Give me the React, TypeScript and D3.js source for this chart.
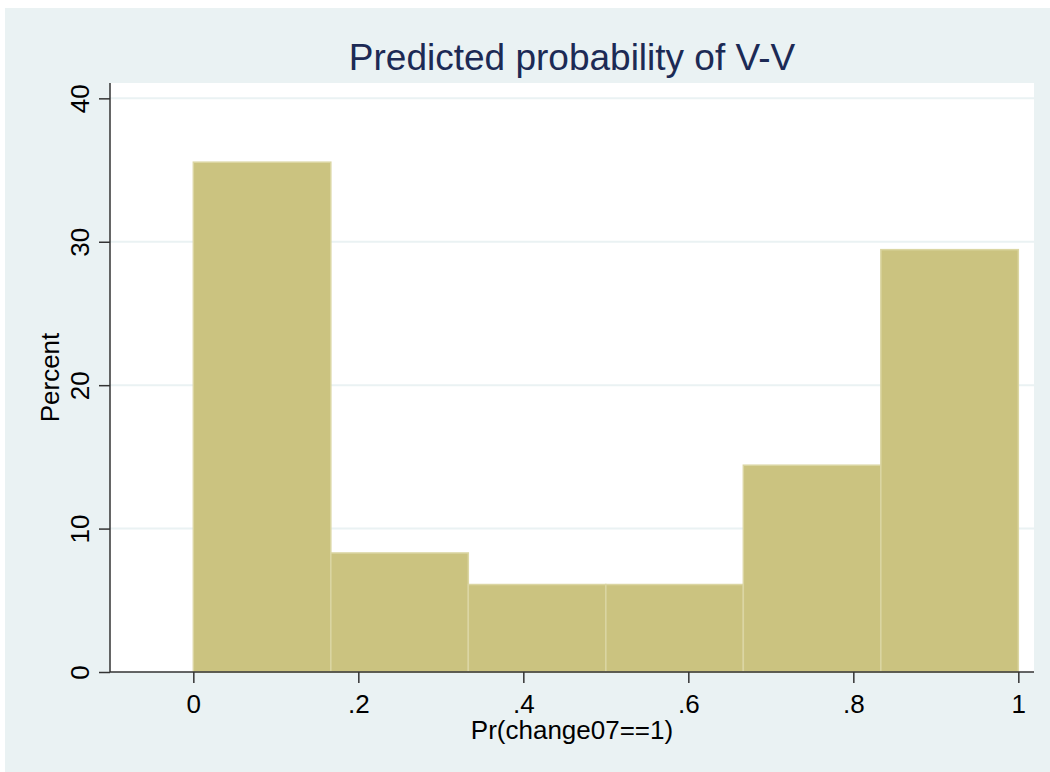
import React, { useEffect, useRef } from 'react';
import * as d3 from 'd3';

// histogram bins (start, end) and percent heights
const binStarts = [0, 1 / 6, 2 / 6, 3 / 6, 4 / 6, 5 / 6];
const binWidth = 1 / 6;
const percents = [35.55, 8.3, 6.1, 6.1, 14.42, 29.45];
const xTicks = [0, 0.2, 0.4, 0.6, 0.8, 1];
const xTickLabels = ['0', '.2', '.4', '.6', '.8', '1'];
const yTicks = [0, 10, 20, 30, 40];

const W = 1050;
const H = 772;

export default function App() {
  const ref = useRef<SVGSVGElement>(null);

  useEffect(() => {
    const svg = d3.select(ref.current);
    svg.selectAll('*').remove();

    const font = '"Liberation Sans", Arial, sans-serif';
    const left = 110, right = 1034, top = 83, bottom = 672;

    svg.append('rect').attr('width', W).attr('height', H).attr('fill', '#ffffff');
    svg.append('rect').attr('x', 5).attr('y', 8).attr('width', W - 5).attr('height', H - 8).attr('fill', '#eaf2f3');
    svg.append('rect').attr('x', left).attr('y', top).attr('width', right - left).attr('height', bottom - top).attr('fill', '#ffffff');

    const x = d3.scaleLinear().domain([-0.101, 1.019]).range([left, right]);
    const y = d3.scaleLinear().domain([0, 41.07]).range([bottom, top]);

    // gridlines
    svg.append('g')
      .selectAll('line')
      .data(yTicks.filter(d => d > 0))
      .join('line')
      .attr('x1', left)
      .attr('x2', right)
      .attr('y1', d => y(d))
      .attr('y2', d => y(d))
      .attr('stroke', '#eaf2f3')
      .attr('stroke-width', 2);

    // bars
    svg.append('g')
      .selectAll('rect')
      .data(percents)
      .join('rect')
      .attr('x', (d, i) => x(binStarts[i]))
      .attr('y', d => y(d))
      .attr('width', (d, i) => x(binStarts[i] + binWidth) - x(binStarts[i]))
      .attr('height', d => y(0) - y(d))
      .attr('fill', '#cbc380')
      .attr('stroke', '#dbd6a3')
      .attr('stroke-width', 1.5);

    // y axis
    const yAxis = svg.append('g').attr('transform', `translate(${left},0)`)
      .call(d3.axisLeft(y).tickValues(yTicks).tickSize(11).tickFormat(d3.format('d')));
    yAxis.select('.domain').attr('d', `M0,${top}V${bottom}`).attr('stroke', '#333').attr('stroke-width', 1.5);
    yAxis.selectAll('.tick line').attr('stroke', '#333').attr('stroke-width', 1.5);
    yAxis.selectAll('.tick text')
      .attr('x', null).attr('dy', null)
      .attr('transform', 'translate(-21,0) rotate(-90)')
      .attr('text-anchor', 'middle')
      .attr('font-family', font)
      .attr('font-size', 26)
      .attr('fill', '#000');

    // x axis
    const xAxis = svg.append('g').attr('transform', `translate(0,${bottom})`)
      .call(d3.axisBottom(x).tickValues(xTicks).tickSize(11).tickFormat((d, i) => xTickLabels[i]));
    xAxis.select('.domain').attr('d', `M${left},0H${right}`).attr('stroke', '#333').attr('stroke-width', 1.5);
    xAxis.selectAll('.tick line').attr('stroke', '#333').attr('stroke-width', 1.5);
    xAxis.selectAll('.tick text')
      .attr('y', 41).attr('dy', null)
      .attr('font-family', font)
      .attr('font-size', 26)
      .attr('fill', '#000');

    // titles
    svg.append('text')
      .attr('x', (left + right) / 2)
      .attr('y', 70)
      .attr('text-anchor', 'middle')
      .attr('font-family', font)
      .attr('font-size', 37)
      .attr('fill', '#1c2a55')
      .text('Predicted probability of V-V');

    svg.append('text')
      .attr('x', (left + right) / 2)
      .attr('y', 739)
      .attr('text-anchor', 'middle')
      .attr('font-family', font)
      .attr('font-size', 26)
      .attr('fill', '#000')
      .text('Pr(change07==1)');

    svg.append('text')
      .attr('transform', `translate(59,${(top + bottom) / 2}) rotate(-90)`)
      .attr('text-anchor', 'middle')
      .attr('font-family', font)
      .attr('font-size', 26)
      .attr('fill', '#000')
      .text('Percent');
  }, []);

  return (
    <svg ref={ref} width={W} height={H} style={{ position: 'absolute', left: 0, top: 0 }} />
  );
}
